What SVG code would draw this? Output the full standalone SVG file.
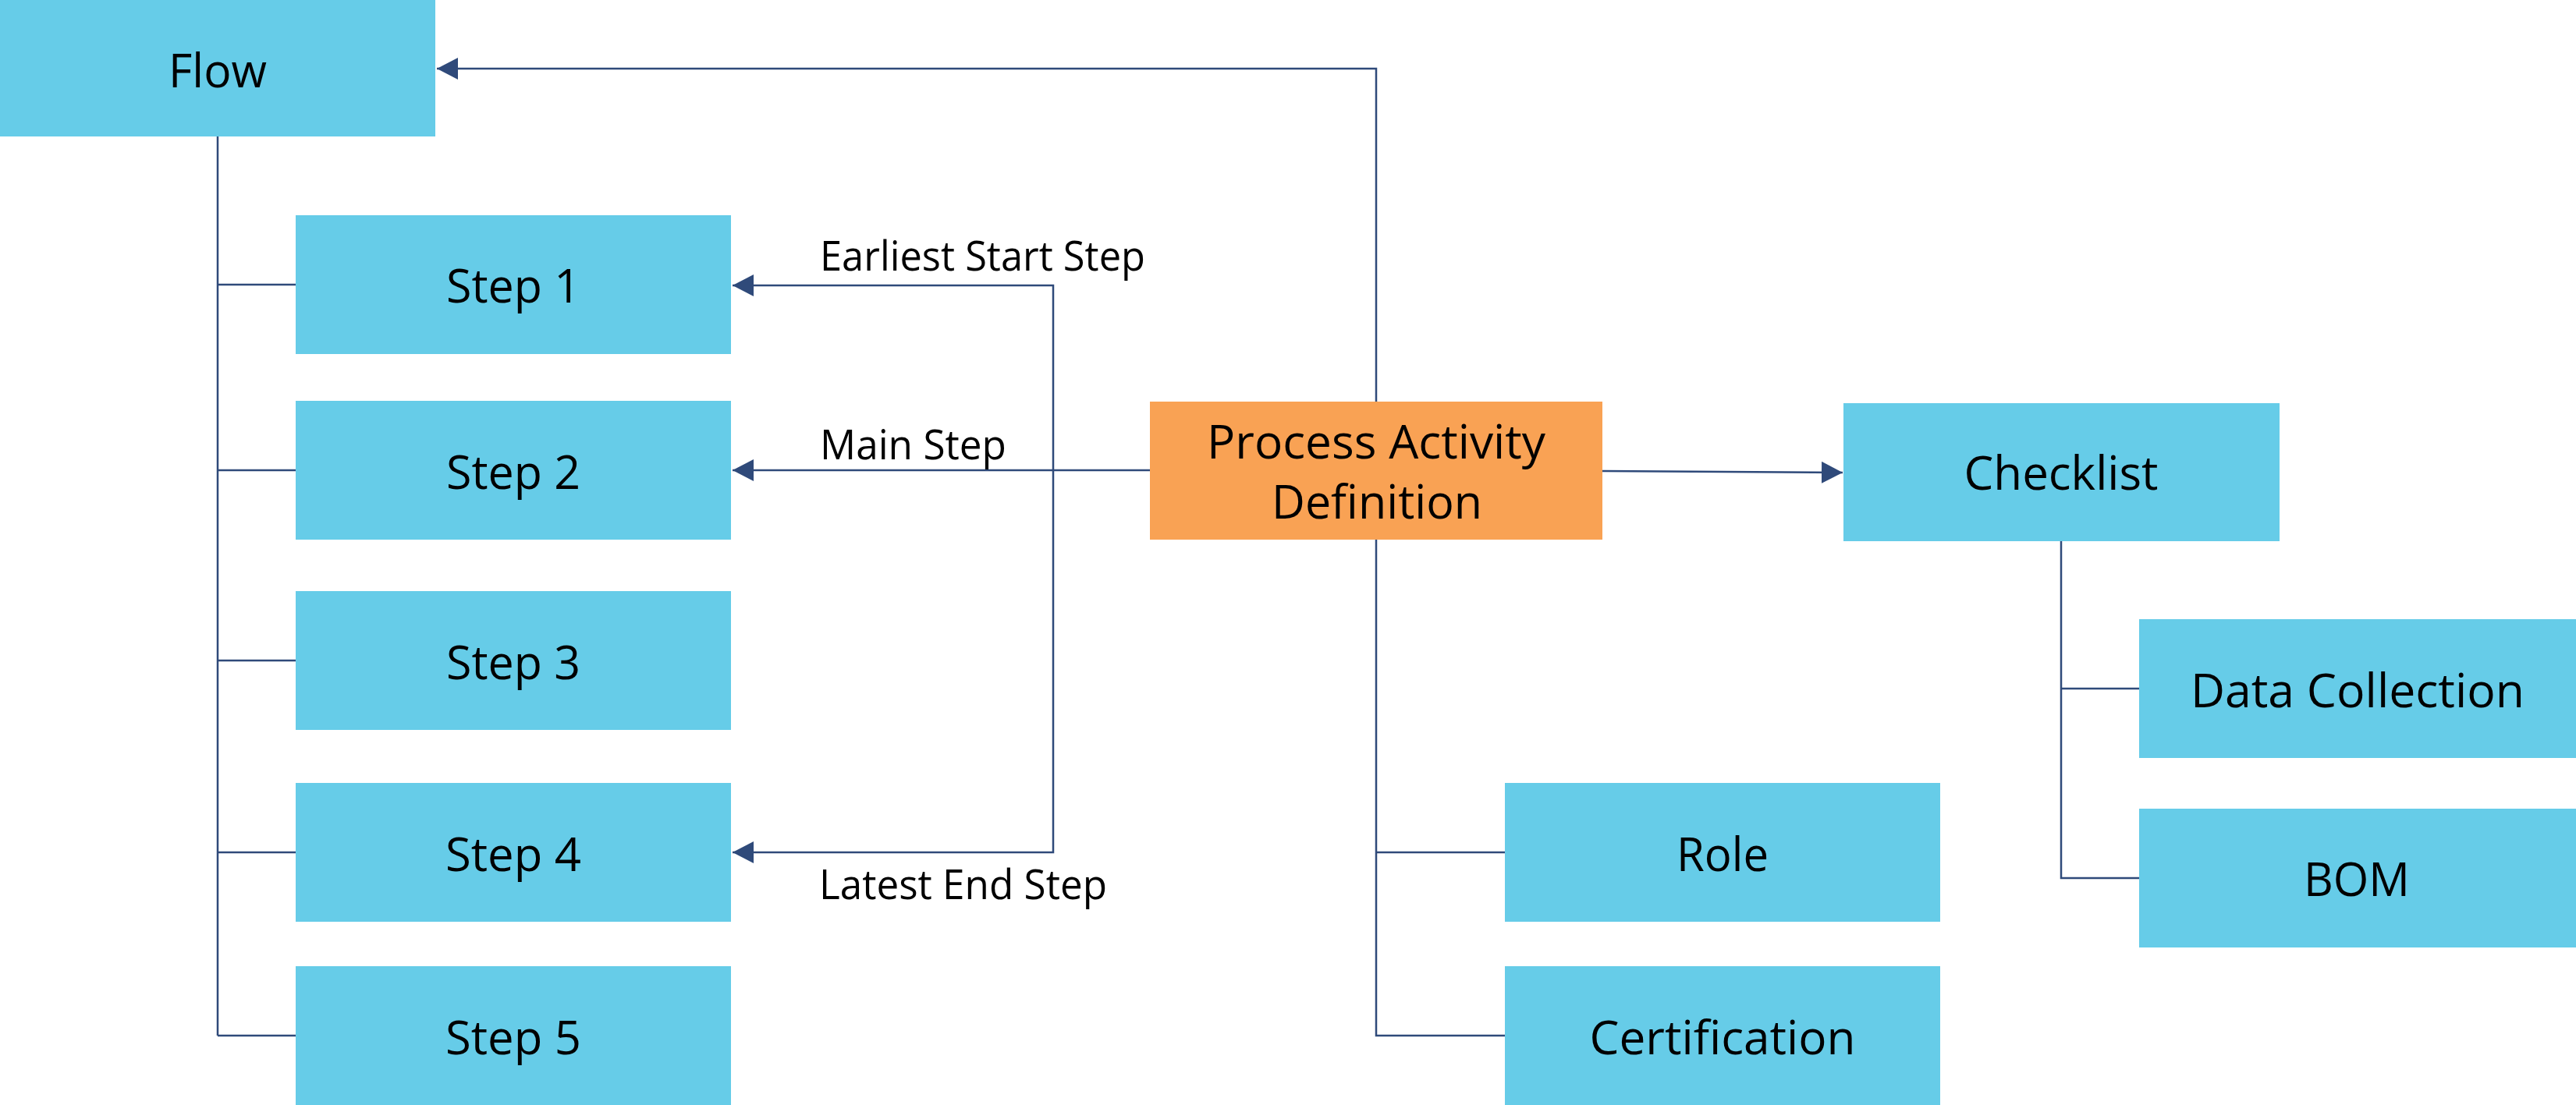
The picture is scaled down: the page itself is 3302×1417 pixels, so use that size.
<svg xmlns="http://www.w3.org/2000/svg" width="3302" height="1417" viewBox="0 0 3302 1417">
<style>
.box{fill:#66CCE8}
.pad{fill:#F9A254}
.lbl{font-family:"Open Sans","Noto Sans","DejaVu Sans",sans-serif;font-size:60px;fill:#000;text-anchor:middle}
.elbl{font-family:"Open Sans","Noto Sans","DejaVu Sans",sans-serif;font-size:53px;fill:#000}
.ln{fill:none;stroke:#2F4A7A;stroke-width:2.5}
</style>
<defs>
<marker id="arr" markerUnits="userSpaceOnUse" markerWidth="28" markerHeight="28" viewBox="0 0 28 28" refX="27" refY="14" orient="auto">
<path d="M0,0 L27,14 L0,28 Z" fill="#2F4A7A"/>
</marker>
</defs>
<rect width="3302" height="1417" fill="#fff"/>
<g id="connectors">
<path class="ln" d="M279,175 V1328"/>
<path class="ln" d="M279,365 H379 M279,603 H379 M279,847 H379 M279,1093 H379 M279,1328 H379"/>
<path class="ln" d="M1764,515 V88 H560" marker-end="url(#arr)"/>
<path class="ln" d="M1474,603 H939" marker-end="url(#arr)"/>
<path class="ln" d="M1350,603 V366 H939" marker-end="url(#arr)"/>
<path class="ln" d="M1350,603 V1093 H939" marker-end="url(#arr)"/>
<path class="ln" d="M2054,604 L2362,606" marker-end="url(#arr)"/>
<path class="ln" d="M1764,692 V1328 H1929 M1764,1093 H1929"/>
<path class="ln" d="M2642,694 V1126 H2742 M2642,883 H2742"/>
</g>
<g id="edge-labels">
<text class="elbl" x="1051" y="347" textLength="417" lengthAdjust="spacingAndGlyphs">Earliest Start Step</text>
<text class="elbl" x="1051" y="589" textLength="239" lengthAdjust="spacingAndGlyphs">Main Step</text>
<text class="elbl" x="1050" y="1153" textLength="369" lengthAdjust="spacingAndGlyphs">Latest End Step</text>
</g>
<g id="flow"><rect class="box" x="0" y="0" width="558" height="175"/><text class="lbl" x="279" y="112" textLength="126" lengthAdjust="spacingAndGlyphs">Flow</text></g>
<g id="step1"><rect class="box" x="379" y="276" width="558" height="178"/><text class="lbl" x="658" y="388" textLength="172" lengthAdjust="spacingAndGlyphs">Step 1</text></g>
<g id="step2"><rect class="box" x="379" y="514" width="558" height="178"/><text class="lbl" x="658" y="627" textLength="172" lengthAdjust="spacingAndGlyphs">Step 2</text></g>
<g id="step3"><rect class="box" x="379" y="758" width="558" height="178"/><text class="lbl" x="658" y="871" textLength="172" lengthAdjust="spacingAndGlyphs">Step 3</text></g>
<g id="step4"><rect class="box" x="379" y="1004" width="558" height="178"/><text class="lbl" x="658" y="1117" textLength="174" lengthAdjust="spacingAndGlyphs">Step 4</text></g>
<g id="step5"><rect class="box" x="379" y="1239" width="558" height="178"/><text class="lbl" x="658" y="1352" textLength="174" lengthAdjust="spacingAndGlyphs">Step 5</text></g>
<g id="process-activity-definition"><rect class="pad" x="1474" y="515" width="580" height="177"/><text class="lbl" x="1764" y="588" textLength="434" lengthAdjust="spacingAndGlyphs">Process Activity</text><text class="lbl" x="1765" y="665" textLength="270" lengthAdjust="spacingAndGlyphs">Definition</text></g>
<g id="checklist"><rect class="box" x="2363" y="517" width="559" height="177"/><text class="lbl" x="2642" y="628" textLength="249" lengthAdjust="spacingAndGlyphs">Checklist</text></g>
<g id="data-collection"><rect class="box" x="2742" y="794" width="560" height="178"/><text class="lbl" x="3022" y="907" textLength="428" lengthAdjust="spacingAndGlyphs">Data Collection</text></g>
<g id="bom"><rect class="box" x="2742" y="1037" width="560" height="178"/><text class="lbl" x="3021" y="1149" textLength="136" lengthAdjust="spacingAndGlyphs">BOM</text></g>
<g id="role"><rect class="box" x="1929" y="1004" width="558" height="178"/><text class="lbl" x="2208" y="1117" textLength="118" lengthAdjust="spacingAndGlyphs">Role</text></g>
<g id="certification"><rect class="box" x="1929" y="1239" width="558" height="178"/><text class="lbl" x="2208" y="1352" textLength="341" lengthAdjust="spacingAndGlyphs">Certification</text></g>
</svg>
